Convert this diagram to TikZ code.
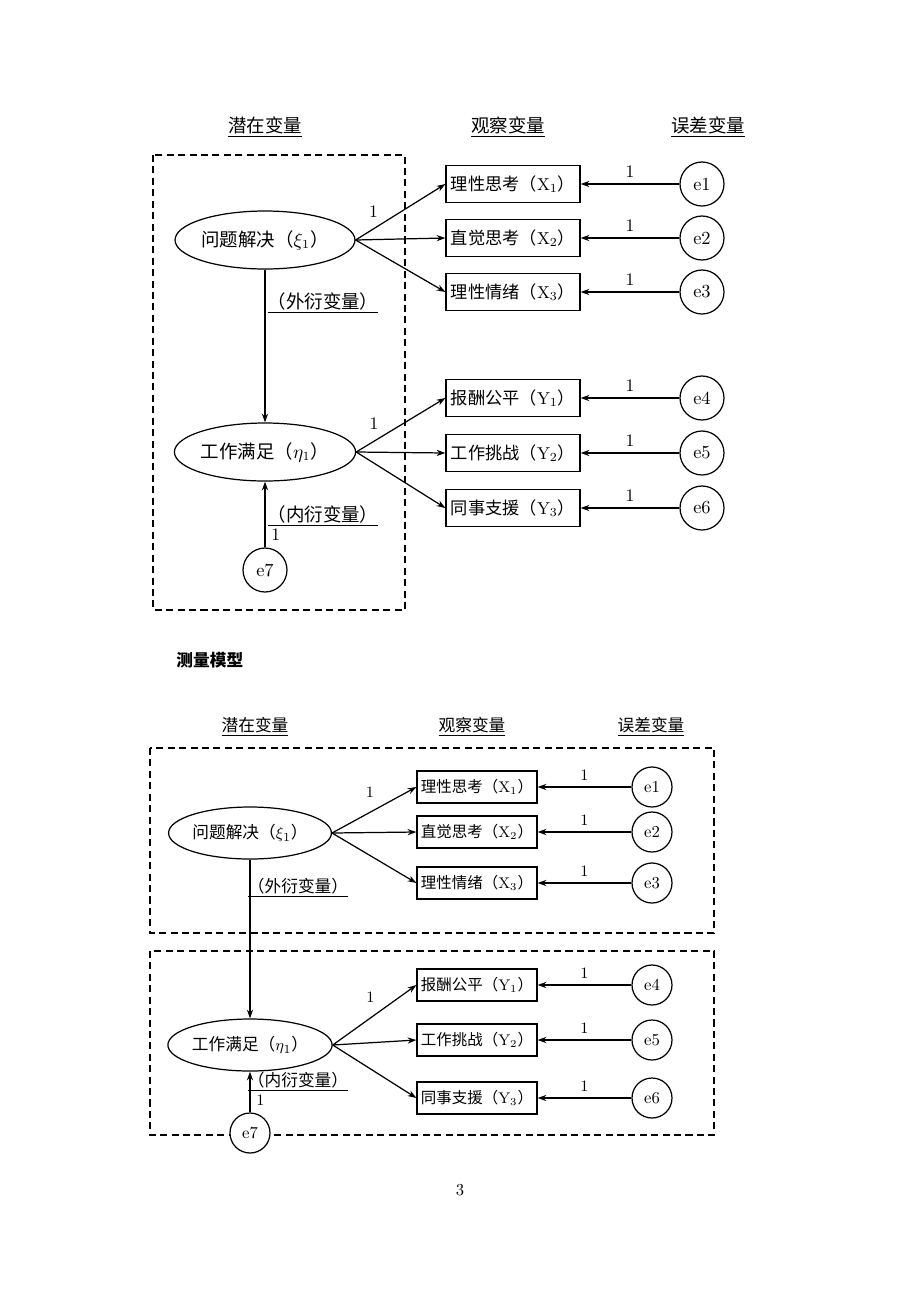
\documentclass[tikz,border=0pt]{standalone}
\usepackage{fontspec}
\usepackage{amsmath}
\newfontfamily\cjk{Noto Sans CJK SC}
\usetikzlibrary{shapes.geometric,arrows.meta}

\begin{document}
\begin{tikzpicture}[x=0.02cm,y=-0.02cm,line width=0.7pt,
  >={Stealth[length=5pt,width=3.5pt]},
  latent/.style={ellipse,draw,minimum width=3.6cm,minimum height=1.16cm,inner sep=0pt,
    font=\fontsize{10.5}{12}\selectfont\cjk},
  observed/.style={rectangle,draw,minimum width=2.68cm,minimum height=0.74cm,inner sep=0pt,
    font=\fontsize{9.8}{12}\selectfont\cjk},
  error/.style={circle,draw,fill=white,minimum size=0.88cm,inner sep=0pt,
    font=\fontsize{10.5}{12}\selectfont},
  head/.style={font=\fontsize{10.5}{12}\selectfont\cjk},
  weight/.style={font=\fontsize{10}{12}\selectfont},
  frame/.style={draw,dashed,dash pattern=on 4pt off 2.5pt,line width=0.6pt}]
  \useasboundingbox (0,0) rectangle (920,1302);

  % first diagram
  \node [head] (h1) at (265,127) {\underline{潜在变量}};
  \node [head] (h2) at (508,127) {\underline{观察变量}};
  \node [head] (h3) at (708,127) {\underline{误差变量}};
  \draw [frame] (153,155) rectangle (405,610);

  \node [latent] (xi) at (265,240) {问题解决（$\xi_1$）};
  \node [latent] (eta) at (265,452) {工作满足（$\eta_1$）};
  \node [observed] (x1) at (513,184) {理性思考（$\mathrm{X}_1$）};
  \node [observed] (x2) at (513,238) {直觉思考（$\mathrm{X}_2$）};
  \node [observed] (x3) at (513,292) {理性情绪（$\mathrm{X}_3$）};
  \node [observed] (y1) at (513,398) {报酬公平（$\mathrm{Y}_1$）};
  \node [observed] (y2) at (513,453) {工作挑战（$\mathrm{Y}_2$）};
  \node [observed] (y3) at (513,508) {同事支援（$\mathrm{Y}_3$）};
  \node [error] (e1) at (702,184) {e1};
  \node [error] (e2) at (702,238) {e2};
  \node [error] (e3) at (702,292) {e3};
  \node [error] (e4) at (702,398) {e4};
  \node [error] (e5) at (702,453) {e5};
  \node [error] (e6) at (702,508) {e6};
  \node [error] (e7) at (265,570) {e7};
  \node [head] (exo) at (323,303) {\underline{（外衍变量）}};
  \node [head] (endo) at (323,516) {\underline{（内衍变量）}};

  \draw [->] (xi.east) -- node[weight,pos=0.2,above=3pt] {1} (x1.west);
  \draw [->] (xi.east) -- (x2.west);
  \draw [->] (xi.east) -- (x3.west);
  \draw [->] (eta.east) -- node[weight,pos=0.2,above=3pt] {1} (y1.west);
  \draw [->] (eta.east) -- (y2.west);
  \draw [->] (eta.east) -- (y3.west);
  \draw [->] (e1) -- node[weight,above] {1} (x1);
  \draw [->] (e2) -- node[weight,above] {1} (x2);
  \draw [->] (e3) -- node[weight,above] {1} (x3);
  \draw [->] (e4) -- node[weight,above] {1} (y1);
  \draw [->] (e5) -- node[weight,above] {1} (y2);
  \draw [->] (e6) -- node[weight,above] {1} (y3);
  \draw [->] (xi) -- (eta);
  \draw [->] (e7) -- node[weight,pos=0.2,right] {1} (eta);

  \node [anchor=west,font=\fontsize{9.5}{12}\selectfont\cjk\bfseries] (cap) at (170,660) {测量模型};

  % second diagram
  \begin{scope}[latent/.append style={minimum width=3.1cm,minimum height=1.04cm,
      font=\fontsize{9.5}{11}\selectfont\cjk},
    observed/.append style={minimum width=2.4cm,minimum height=0.64cm,
      font=\fontsize{8.8}{11}\selectfont\cjk},
    error/.append style={minimum size=0.8cm,font=\fontsize{9.5}{11}\selectfont},
    head/.append style={font=\fontsize{9.5}{11}\selectfont\cjk},
    weight/.append style={font=\fontsize{9}{11}\selectfont}]
  \node [head] (g1) at (255,727) {\underline{潜在变量}};
  \node [head] (g2) at (472,727) {\underline{观察变量}};
  \node [head] (g3) at (651,727) {\underline{误差变量}};
  \draw [frame] (150,748) rectangle (714,933);
  \draw [frame] (150,951) rectangle (714,1135);

  \node [latent] (xiB) at (250,833) {问题解决（$\xi_1$）};
  \node [latent] (etaB) at (250,1045) {工作满足（$\eta_1$）};
  \node [observed] (x1B) at (477,787) {理性思考（$\mathrm{X}_1$）};
  \node [observed] (x2B) at (477,832) {直觉思考（$\mathrm{X}_2$）};
  \node [observed] (x3B) at (477,883) {理性情绪（$\mathrm{X}_3$）};
  \node [observed] (y1B) at (477,985) {报酬公平（$\mathrm{Y}_1$）};
  \node [observed] (y2B) at (477,1040) {工作挑战（$\mathrm{Y}_2$）};
  \node [observed] (y3B) at (477,1098) {同事支援（$\mathrm{Y}_3$）};
  \node [error] (e1B) at (652,787) {e1};
  \node [error] (e2B) at (652,832) {e2};
  \node [error] (e3B) at (652,883) {e3};
  \node [error] (e4B) at (652,985) {e4};
  \node [error] (e5B) at (652,1040) {e5};
  \node [error] (e6B) at (652,1098) {e6};
  \node [error] (e7B) at (250,1133) {e7};
  \node [head] (exoB) at (298,888) {\underline{（外衍变量）}};
  \node [head] (endoB) at (298,1082) {\underline{（内衍变量）}};

  \draw [->] (xiB.east) -- node[weight,pos=0.45,above=5pt] {1} (x1B.west);
  \draw [->] (xiB.east) -- (x2B.west);
  \draw [->] (xiB.east) -- (x3B.west);
  \draw [->] (etaB.east) -- node[weight,pos=0.45,above=5pt] {1} (y1B.west);
  \draw [->] (etaB.east) -- (y2B.west);
  \draw [->] (etaB.east) -- (y3B.west);
  \draw [->] (e1B) -- node[weight,above] {1} (x1B);
  \draw [->] (e2B) -- node[weight,above] {1} (x2B);
  \draw [->] (e3B) -- node[weight,above] {1} (x3B);
  \draw [->] (e4B) -- node[weight,above] {1} (y1B);
  \draw [->] (e5B) -- node[weight,above] {1} (y2B);
  \draw [->] (e6B) -- node[weight,above] {1} (y3B);
  \draw [->] (xiB) -- (etaB);
  \draw [->] (e7B) -- node[weight,pos=0.3,right] {1} (etaB);
  \end{scope}

  \node [font=\fontsize{9.5}{11}\selectfont] (page) at (460,1190) {3};
\end{tikzpicture}
\end{document}
